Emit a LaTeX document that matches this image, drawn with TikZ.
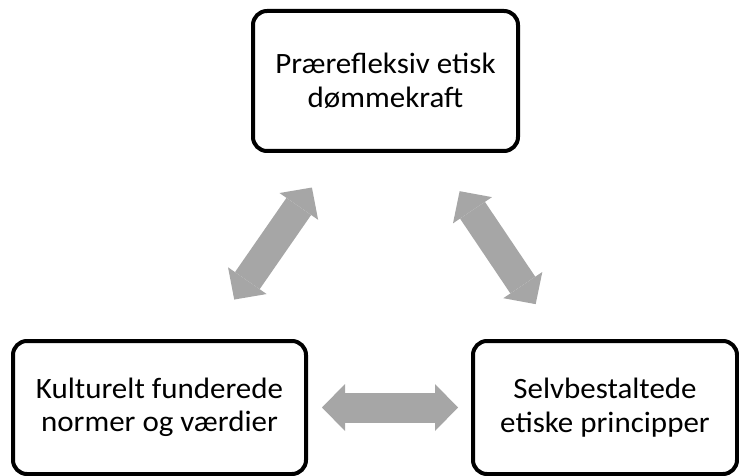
\documentclass[tikz,border=0pt]{standalone}
\usepackage{fontspec}
\newfontfamily\boxfont{Carlito}[FakeStretch=1.05]
\usetikzlibrary{arrows.meta}
\definecolor{arrowgray}{HTML}{A6A6A6}
\tikzset{
  concept/.style={draw=black, line width=4pt, rounded corners=14pt, align=center,
    inner sep=0pt, font=\boxfont\fontsize{29.5}{33.5}\selectfont},
  dblarrow/.style={draw=arrowgray, line width=30pt,
    {Triangle[width=47pt,length=23pt,line width=0pt]}-{Triangle[width=47pt,length=23pt,line width=0pt]}},
}
\begin{document}
\begin{tikzpicture}[x=1pt,y=-1pt]
    \useasboundingbox (0,0) rectangle (739,476);

    \node[concept, minimum width=265pt, minimum height=140pt] (praer) at (385.5,81) {Prærefleksiv etisk\\dømmekraft};
    \node[concept, minimum width=293pt, minimum height=133pt] (kultur) at (159.5,407.5) {Kulturelt funderede\\normer og værdier};
    \node[concept, minimum width=264pt, minimum height=133pt] (selv) at (605,407.5) {Selvbestaltede\\etiske principper};

    % double arrows between the three boxes
    \draw[dblarrow, shorten <=14pt, shorten >=13pt] (kultur) -- (selv);
    \draw[dblarrow, shorten <=48pt, shorten >=42pt] (kultur) -- (praer);
    \draw[dblarrow, shorten <=46pt, shorten >=42pt] (praer) -- (selv);

\end{tikzpicture}
\end{document}
